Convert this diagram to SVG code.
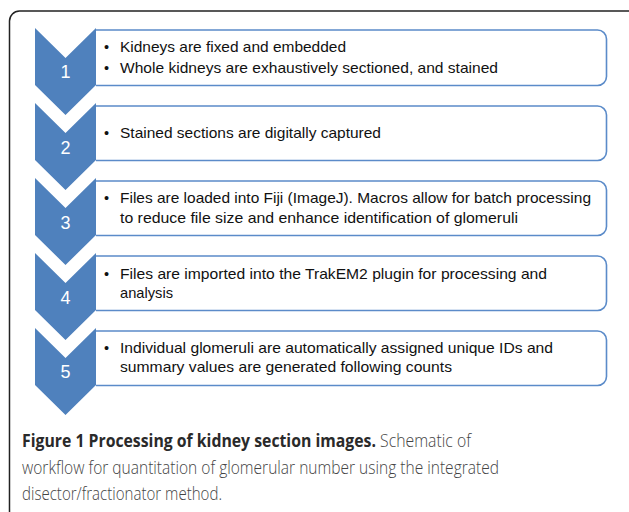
<svg xmlns="http://www.w3.org/2000/svg" width="629" height="512" viewBox="0 0 629 512">
<style>
.frame{fill:none;stroke:#222;stroke-width:1.5}
.chev{fill:#4f81bd}
.box{fill:#fff;stroke:#5b8bc9;stroke-width:1.6}
.num{font-family:"Liberation Sans",Arial,sans-serif;font-size:18px;fill:#fff;text-anchor:middle}
.txt{font-family:"Liberation Sans",Arial,sans-serif;font-size:14.5px;fill:#111}
.cap{font-family:"Open Sans","Noto Sans",sans-serif;font-size:15.8px;fill:#444;font-weight:300}
.capb{font-weight:700;fill:#2a2a2a}
</style>
<rect class="frame" x="9.5" y="11" width="640" height="510" rx="10"/>
<g id="step1">
<path class="box" d="M96,30 H597.5 A9,9 0 0 1 606.5,39 V76.5 A9,9 0 0 1 597.5,85.5 H96"/>
<path class="chev" d="M35,28 L65.5,58 L96,28 V85 L65.5,115 L35,85 Z"/>
<text class="num" x="65.5" y="78">1</text>
<text class="txt" x="104" y="52">•</text>
<text class="txt" x="120" y="52" textLength="226" lengthAdjust="spacingAndGlyphs">Kidneys are fixed and embedded</text>
<text class="txt" x="104" y="73">•</text>
<text class="txt" x="120" y="73" textLength="378" lengthAdjust="spacingAndGlyphs">Whole kidneys are exhaustively sectioned, and stained</text>
</g>
<g id="step2">
<path class="box" d="M96,106 H597.5 A9,9 0 0 1 606.5,115 V151.5 A9,9 0 0 1 597.5,160.5 H96"/>
<path class="chev" d="M35,103 L65.5,133 L96,103 V160 L65.5,190 L35,160 Z"/>
<text class="num" x="65.5" y="154">2</text>
<text class="txt" x="104" y="138">•</text>
<text class="txt" x="120" y="138" textLength="261" lengthAdjust="spacingAndGlyphs">Stained sections are digitally captured</text>
</g>
<g id="step3">
<path class="box" d="M96,181 H597.5 A9,9 0 0 1 606.5,190 V226.5 A9,9 0 0 1 597.5,235.5 H96"/>
<path class="chev" d="M35,178 L65.5,208 L96,178 V235 L65.5,265 L35,235 Z"/>
<text class="num" x="65.5" y="229">3</text>
<text class="txt" x="104" y="203">•</text>
<text class="txt" x="120" y="203" textLength="471" lengthAdjust="spacingAndGlyphs">Files are loaded into Fiji (ImageJ). Macros allow for batch processing</text>
<text class="txt" x="120" y="222.5" textLength="398" lengthAdjust="spacingAndGlyphs">to reduce file size and enhance identification of glomeruli</text>
</g>
<g id="step4">
<path class="box" d="M96,256 H597.5 A9,9 0 0 1 606.5,265 V301.5 A9,9 0 0 1 597.5,310.5 H96"/>
<path class="chev" d="M35,253 L65.5,283 L96,253 V310 L65.5,340 L35,310 Z"/>
<text class="num" x="65.5" y="304">4</text>
<text class="txt" x="104" y="279">•</text>
<text class="txt" x="120" y="279" textLength="427" lengthAdjust="spacingAndGlyphs">Files are imported into the TrakEM2 plugin for processing and</text>
<text class="txt" x="120" y="298" textLength="53" lengthAdjust="spacingAndGlyphs">analysis</text>
</g>
<g id="step5">
<path class="box" d="M96,331 H597.5 A9,9 0 0 1 606.5,340 V376.5 A9,9 0 0 1 597.5,385.5 H96"/>
<path class="chev" d="M35,328 L65.5,358 L96,328 V385 L65.5,415 L35,385 Z"/>
<text class="num" x="65.5" y="378">5</text>
<text class="txt" x="104" y="353">•</text>
<text class="txt" x="120" y="353" textLength="433" lengthAdjust="spacingAndGlyphs">Individual glomeruli are automatically assigned unique IDs and</text>
<text class="txt" x="120" y="372" textLength="332" lengthAdjust="spacingAndGlyphs">summary values are generated following counts</text>
</g>
<g id="connectors"></g>
<g id="caption">
<text class="cap" transform="translate(22,447) scale(1,1.14)" x="0" y="0"><tspan class="capb">Figure 1 Processing of kidney section images.</tspan> Schematic of</text>
<text class="cap" transform="translate(22,473.5) scale(1,1.14)" x="0" y="0" textLength="477" lengthAdjust="spacingAndGlyphs">workflow for quantitation of glomerular number using the integrated</text>
<text class="cap" transform="translate(22,500) scale(1,1.14)" x="0" y="0" textLength="200" lengthAdjust="spacingAndGlyphs">disector/fractionator method.</text>
</g>
</svg>
